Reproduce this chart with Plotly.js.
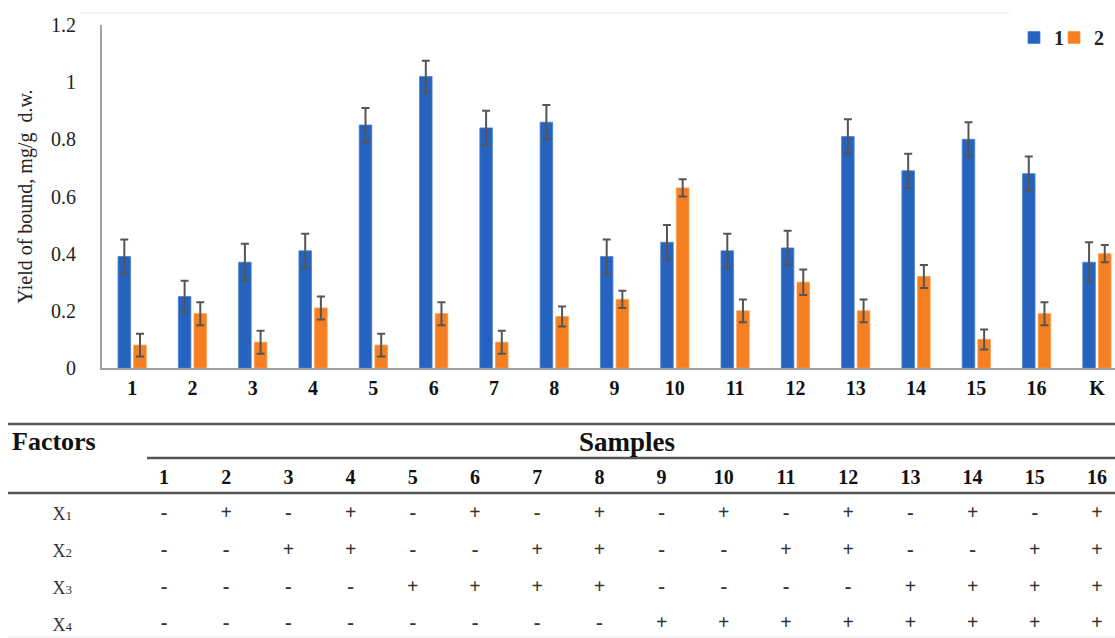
<!DOCTYPE html>
<html>
<head>
<meta charset="utf-8">
<script src="https://cdn.plot.ly/plotly-3.0.1.min.js"></script>
<style>html,body{margin:0;padding:0;background:#fff;}#chart{width:1115px;height:638px;}</style>
</head>
<body>
<div id="chart"></div>
<script>
// ---- data ----
const categories = ['1','2','3','4','5','6','7','8','9','10','11','12','13','14','15','16','K'];
const series1 = [0.39,0.25,0.37,0.41,0.85,1.02,0.84,0.86,0.39,0.44,0.41,0.42,0.81,0.69,0.80,0.68,0.37];
const series1Err = [0.06,0.055,0.065,0.06,0.06,0.055,0.06,0.06,0.06,0.06,0.06,0.06,0.06,0.06,0.06,0.06,0.07];
const series2 = [0.08,0.19,0.09,0.21,0.08,0.19,0.09,0.18,0.24,0.63,0.20,0.30,0.20,0.32,0.10,0.19,0.40];
const series2Err = [0.04,0.04,0.04,0.04,0.04,0.04,0.04,0.035,0.03,0.03,0.04,0.045,0.04,0.04,0.035,0.04,0.03];
const seriesNames = ['1','2'];
const yTitle = 'Yield of bound, mg/g  d.w.';

const samples = [1,2,3,4,5,6,7,8,9,10,11,12,13,14,15,16];
const factors = ['X1','X2','X3','X4'];
const factorLabels = ['X<span style="font-size:13px">1</span>','X<span style="font-size:13px">2</span>','X<span style="font-size:13px">3</span>','X<span style="font-size:13px">4</span>'];
const signsX1 = ['-','+','-','+','-','+','-','+','-','+','-','+','-','+','-','+'];
const signsX2 = ['-','-','+','+','-','-','+','+','-','-','+','+','-','-','+','+'];
const signsX3 = ['-','-','-','-','+','+','+','+','-','-','-','-','+','+','+','+'];
const signsX4 = ['-','-','-','-','-','-','-','-','+','+','+','+','+','+','+','+'];
const tableHeaderLeft = 'Factors';
const tableHeaderTop = 'Samples';

// ---- build ----
const W = 1115, H = 638;
const serif = '"Liberation Serif"';
const px = v => v / W;
const py = v => 1 - v / H;

const signRows = [signsX1, signsX2, signsX3, signsX4];
const tx = [], ty = [], tt = [];
signRows.forEach((row, r) => row.forEach((s, i) => { tx.push(samples[i]); ty.push(factors[r]); tt.push(s); }));

const traces = [
  {type:'bar', name:seriesNames[0], x:categories, y:series1, legend:'legend',
   marker:{color:'#2563bf', line:{color:'#4a7fd0', width:0.8}},
   error_y:{type:'data', array:series1Err, visible:true, color:'#555555', thickness:2, width:4}},
  {type:'bar', name:seriesNames[1], x:categories, y:series2, legend:'legend2',
   marker:{color:'#f57f21', line:{color:'#f79a4c', width:0.8}},
   error_y:{type:'data', array:series2Err, visible:true, color:'#555555', thickness:2, width:4}},
  {type:'scatter', mode:'text', x:tx, y:ty, text:tt, xaxis:'x2', yaxis:'y2', showlegend:false,
   textfont:{family:serif, size:20, color:'#333', weight:'bold'}, hoverinfo:'skip'}
];

const legendStyle = (x) => ({orientation:'h', x:px(x), y:py(18), xanchor:'left', yanchor:'top',
  font:{family:serif, size:20, color:'#222', weight:'bold'}, bgcolor:'rgba(0,0,0,0)', itemwidth:30});

const lineCol = '#555';
const layout = {
  width:W, height:H, margin:{l:0,r:0,t:0,b:0},
  paper_bgcolor:'#fff', plot_bgcolor:'rgba(0,0,0,0)',
  font:{family:serif, color:'#222'},
  barmode:'group', bargap:0.48, bargroupgap:0.2,
  showlegend:true,
  legend:legendStyle(1014),
  legend2:legendStyle(1054),
  xaxis:{domain:[px(102),1], type:'category', range:[-0.5,16.3], showline:true, linecolor:'#a0a0a0', linewidth:2,
         ticks:'', showgrid:false, zeroline:false, tickfont:{family:serif, size:20, color:'#111', weight:'bold'},
         ticklabelstandoff:1, anchor:'y'},
  yaxis:{domain:[py(368), py(25)], range:[0,1.2], dtick:0.2, showline:true, linecolor:'#a0a0a0', linewidth:2,
         ticks:'', showgrid:false, zeroline:false, tickfont:{family:serif, size:20, color:'#222'},
         ticklabelstandoff:20, anchor:'x',
         title:{text:yTitle, font:{family:serif, size:20, color:'#222'}, standoff:13}},
  xaxis2:{domain:[0,1], anchor:'y2', side:'top', range:[1-164/62.2, 1+(W-164)/62.2],
          tickvals:samples, ticktext:samples.map(String), showline:false, showgrid:false, zeroline:false, ticks:'',
          tickfont:{family:serif, size:20, color:'#111', weight:'bold'}, ticklabelstandoff:4},
  yaxis2:{domain:[0, py(493)], anchor:'free', position:px(72), type:'category', categoryarray:factors,
          range:[3+(638-624.3)/36.77, -(514-493)/36.77], tickvals:factors, ticktext:factorLabels,
          showline:false, showgrid:false, zeroline:false, ticks:'',
          tickfont:{family:serif, size:18, color:'#333'}},
  shapes:[
    {type:'line', xref:'paper', yref:'paper', x0:px(80), x1:px(1010), y0:py(13), y1:py(13), line:{color:'#ececec', width:1}},
    {type:'line', xref:'paper', yref:'paper', x0:px(8), x1:1, y0:py(424), y1:py(424), line:{color:lineCol, width:2.5}},
    {type:'line', xref:'paper', yref:'paper', x0:px(147), x1:1, y0:py(458), y1:py(458), line:{color:lineCol, width:2.5}},
    {type:'line', xref:'paper', yref:'paper', x0:px(8), x1:1, y0:py(493), y1:py(493), line:{color:lineCol, width:2.5}},
    {type:'line', xref:'paper', yref:'paper', x0:px(8), x1:1, y0:py(637), y1:py(637), line:{color:'#eeeeee', width:1}}
  ],
  annotations:[
    {text:'<b>'+tableHeaderLeft+'</b>', xref:'paper', yref:'paper', x:px(10), y:py(442), xanchor:'left', yanchor:'middle',
     showarrow:false, font:{family:serif, size:26, color:'#111'}},
    {text:'<b>'+tableHeaderTop+'</b>', xref:'paper', yref:'paper', x:px(627), y:py(442), xanchor:'center', yanchor:'middle',
     showarrow:false, font:{family:serif, size:27, color:'#111'}}
  ]
};

Plotly.newPlot('chart', traces, layout, {displayModeBar:false, staticPlot:true});
</script>
</body>
</html>
